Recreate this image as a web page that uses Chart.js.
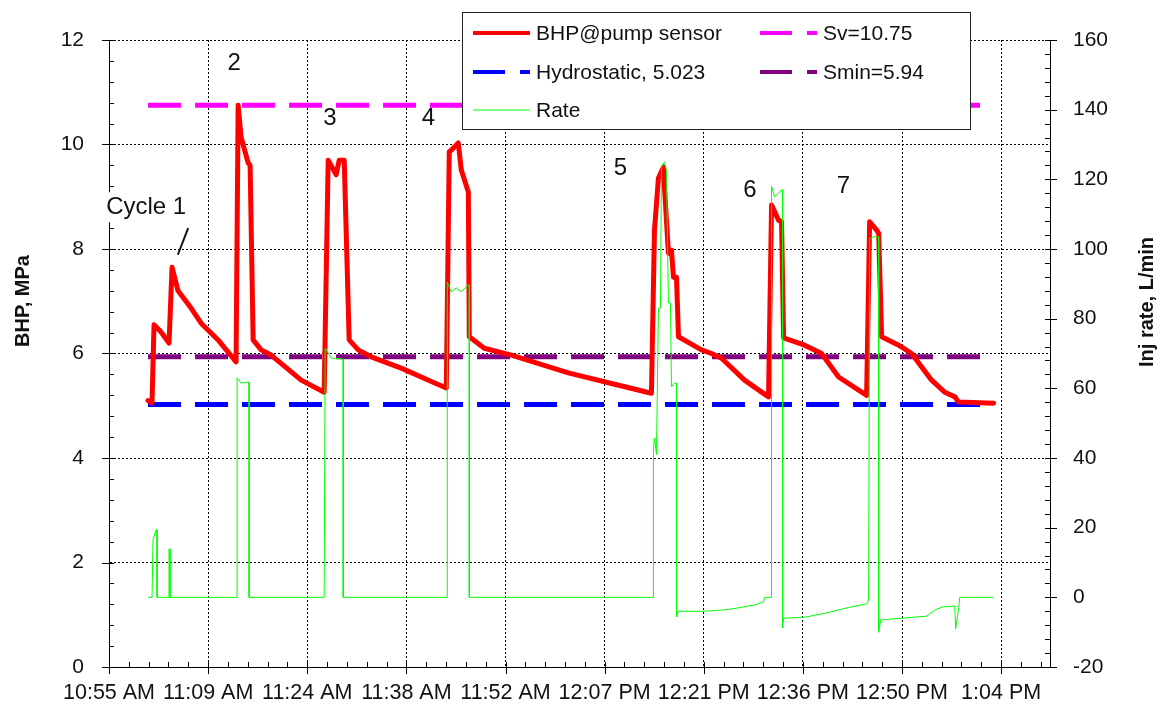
<!DOCTYPE html>
<html>
<head>
<meta charset="utf-8">
<script src="https://cdn.jsdelivr.net/npm/chart.js@4.4.1/dist/chart.umd.min.js"></script>
<style>
  html, body { margin: 0; padding: 0; background: #fff; }
  #wrap { width: 1162px; height: 711px; position: relative; }
</style>
</head>
<body>
<div id="wrap"><canvas id="bhpChart"></canvas></div>
<script>
/* BHP & injection rate vs time, stress test cycles 1-7 */

// time axis: minutes after 10:55:12 (major unit 0.01 day = 14.4 min)
const TICK_MIN    = [0, 14.4, 28.8, 43.2, 57.6, 72, 86.4, 100.8, 115.2, 129.6];
const TICK_LABELS = ["10:55 AM", "11:09 AM", "11:24 AM", "11:38 AM", "11:52 AM",
                     "12:07 PM", "12:21 PM", "12:36 PM", "12:50 PM", "1:04 PM"];
const X_MAX = 136.7;

// BHP @ pump sensor (MPa)
const bhpTime = [5.67, 6.25, 6.54, 7.56, 8.72, 9.16, 10.03, 11.92, 13.38, 15.85, 18.46,
  18.76, 19.19, 20.21, 20.50, 20.94, 22.10, 23.55, 27.91, 31.26,
  31.84, 33.00, 33.44, 34.17, 34.89, 36.20, 38.38, 42.45, 47.25, 49.00,
  49.43, 49.72, 50.74, 51.18, 52.20, 52.34, 54.52, 58.45, 66.73, 72.55, 78.80,
  79.24, 79.82, 80.55, 80.69, 81.27, 81.71, 82.00, 82.44, 82.73, 86.07, 87.53, 88.98, 92.33, 94.80, 95.81,
  96.25, 97.27, 97.70, 98.00, 101.05, 103.52, 105.99, 110.06,
  110.50, 111.52, 111.81, 112.24, 114.71, 116.60, 119.50, 121.40, 122.90, 123.40, 128.50];
const bhpMPa = [5.10, 5.05, 6.55, 6.41, 6.20, 7.65, 7.20, 6.87, 6.58, 6.26, 5.84,
  10.75, 10.14, 9.65, 9.60, 6.26, 6.07, 5.97, 5.49, 5.26,
  9.70, 9.42, 9.70, 9.70, 6.26, 6.07, 5.92, 5.72, 5.44, 5.34,
  9.86, 9.89, 10.03, 9.51, 9.09, 6.32, 6.10, 5.97, 5.63, 5.44, 5.24,
  8.36, 9.36, 9.57, 9.19, 7.92, 7.98, 7.46, 7.46, 6.32, 6.07, 6.00, 5.91, 5.49, 5.26, 5.17,
  8.84, 8.55, 8.52, 6.30, 6.16, 6.00, 5.55, 5.20,
  8.52, 8.36, 8.30, 6.32, 6.16, 6.00, 5.49, 5.26, 5.17, 5.07, 5.05];

// injection rate (L/min)
const rateTime = [5.67, 6.25, 6.40, 6.83, 6.98, 6.98, 8.72, 8.72, 8.87, 8.87,
  18.61, 18.61, 19.19, 20.21, 20.35, 20.35,
  31.26, 31.40, 32.28, 34.02, 34.02,
  49.14, 49.14, 49.72, 50.45, 51.18, 52.20, 52.34, 52.34,
  79.09, 79.09, 79.24, 79.53, 79.82, 80.11, 80.26, 80.69, 80.98, 81.27, 81.56, 81.71, 82.15, 82.44,
  82.44, 82.73, 86.51, 90.00, 93.78, 95.09, 95.23,
  96.25, 96.25, 96.69, 97.27, 97.70, 97.85,
  97.85, 98.00, 101.05, 103.96, 107.45, 110.06, 110.35,
  110.50, 111.08, 111.81,
  111.81, 112.10, 115.15, 118.79, 119.95, 120.97, 122.86, 123.00, 123.44, 123.58, 128.53];
const rateLmin = [0, 0, 16.5, 19.4, 19.4, 0, 0, 13.9, 13.9, 0,
  0, 63, 61.5, 61.8, 61.8, 0,
  0, 71.6, 68.7, 68.4, 0,
  0, 90.5, 87.7, 88.8, 87.7, 89.7, 89.7, 0,
  0, 42.0, 45.7, 41.0, 83.0, 83.0, 123.5, 125.0, 122.6, 84.5, 84.5, 60.4, 61.5, 61.5,
  -5.6, -4.0, -4.0, -3.5, -2.2, -1.3, 0,
  0, 118, 115, 116, 117, 117,
  -8.8, -6.0, -5.7, -4.6, -2.9, -1.9, -0.8,
  103, 103.5, 103.5,
  -10, -6.5, -6.0, -5.4, -3.7, -2.8, -2.5, -9.0, -3.0, 0, 0];

// reference stress levels (MPa), drawn over the test span
const SV = 10.75, HYDRO = 5.023, SMIN = 5.94;
const REF_SPAN = [5.67, 128.5];

// cycle labels: [text, minutes, MPa]
const CYCLE_LABELS = [["Cycle 1", 5.4, 8.8], ["2", 18.2, 11.56], ["3", 32.1, 10.5], ["4", 46.4, 10.5],
                      ["5", 74.3, 9.55], ["6", 93.1, 9.13], ["7", 106.7, 9.19]];

const FONT = "'Liberation Sans', Arial, Helvetica, sans-serif";
const INK = "#111";

const pts = (xs, ys) => xs.map((t, i) => ({ x: t, y: ys[i] }));
const flat = v => REF_SPAN.map(t => ({ x: t, y: v }));

const SERIES = [
  { label: "BHP@pump sensor",      color: "#ff0000", width: 5, dash: [] },
  { label: "Sv=10.75",             color: "#ff00ff", width: 5, dash: [33, 14] },
  { label: "Hydrostatic, 5.023",   color: "#0000ff", width: 5, dash: [33, 14] },
  { label: "Smin=5.94",            color: "#800080", width: 5, dash: [33, 14] },
  { label: "Rate",                 color: "#00ff00", width: 1, dash: [] },
];

// ── tick marks (majors across the axis, minors inside) ──────────────────────
const axisMarks = {
  id: "axisMarks",
  afterDraw(chart) {
    const { ctx, chartArea: a, scales: { x, y, y1 } } = chart;
    ctx.save();
    ctx.strokeStyle = "#000";
    ctx.lineWidth = 1;
    ctx.beginPath();
    TICK_MIN.forEach(t0 => {
      for (let k = 0; k < 5; k++) {
        const v = t0 + k * 2.88;
        if (v > X_MAX) break;
        const px = Math.round(x.getPixelForValue(v)) + 0.5;
        ctx.moveTo(px, a.bottom - 5);
        ctx.lineTo(px, a.bottom + (k ? 0 : 7));
      }
    });
    for (let v = 0; v <= 12.001; v += 0.4) {
      const py = Math.round(y.getPixelForValue(v)) + 0.5;
      const major = Math.abs(v / 2 - Math.round(v / 2)) < 1e-6;
      ctx.moveTo(a.left - (major ? 7 : 0), py);
      ctx.lineTo(a.left + 5, py);
    }
    for (let v = -20; v <= 160.001; v += 4) {
      const py = Math.round(y1.getPixelForValue(v)) + 0.5;
      const major = Math.abs(v / 20 - Math.round(v / 20)) < 1e-6;
      ctx.moveTo(a.right - 5, py);
      ctx.lineTo(a.right + (major ? 7 : 0), py);
    }
    ctx.stroke();
    ctx.restore();
  },
};

// ── axis titles, cycle labels, legend box ───────────────────────────────────
const overlay = {
  id: "overlay",
  afterDraw(chart) {
    const { ctx, scales: { x, y } } = chart;
    ctx.save();
    ctx.fillStyle = INK;

    // axis titles
    ctx.font = `bold 20px ${FONT}`;
    ctx.textAlign = "center";
    ctx.textBaseline = "middle";
    [[23, 301, "BHP, MPa"], [1147, 302, "Inj rate, L/min"]].forEach(([tx, ty, s]) => {
      ctx.save();
      ctx.translate(tx, ty);
      ctx.rotate(-Math.PI / 2);
      ctx.fillText(s, 0, 0);
      ctx.restore();
    });

    // cycle numbers
    ctx.font = `24px ${FONT}`;
    CYCLE_LABELS.forEach(([s, t, v]) => {
      const px = x.getPixelForValue(t), py = y.getPixelForValue(v);
      if (s.length > 1) {
        const w = ctx.measureText(s).width;
        ctx.fillStyle = "#fff";
        ctx.fillRect(px - w / 2 - 4, py - 15, w + 8, 30);
        ctx.fillStyle = INK;
      }
      ctx.fillText(s, px, py);
    });
    // pointer from "Cycle 1" to its peak
    ctx.strokeStyle = INK;
    ctx.lineWidth = 2;
    ctx.beginPath();
    ctx.moveTo(x.getPixelForValue(10.0), y.getPixelForValue(7.89));
    ctx.lineTo(x.getPixelForValue(11.5), y.getPixelForValue(8.4));
    ctx.stroke();

    // legend
    const L = { x: 462.5, y: 12.5, w: 508, h: 117 };
    ctx.fillStyle = "#fff";
    ctx.fillRect(L.x, L.y, L.w, L.h);
    ctx.strokeStyle = "#222";
    ctx.lineWidth = 1;
    ctx.strokeRect(L.x, L.y, L.w, L.h);
    const slots = [[473, 33], [760, 33], [473, 72], [760, 72], [473, 110]];
    ctx.font = `21px ${FONT}`;
    ctx.textAlign = "left";
    SERIES.forEach((s, k) => {
      const [lx, ly] = slots[k];
      ctx.save();
      ctx.strokeStyle = s.color;
      ctx.lineWidth = s.width === 1 ? 1 : 4;
      ctx.setLineDash(s.dash.length ? [32, 15] : []);
      ctx.beginPath();
      ctx.moveTo(lx, ly);
      ctx.lineTo(lx + 57, ly);
      ctx.stroke();
      ctx.restore();
      ctx.fillStyle = INK;
      ctx.fillText(s.label, lx + 63, ly + 1);
    });
    ctx.restore();
  },
};

const tickFont = { family: FONT, size: 21 };

new Chart(document.getElementById("bhpChart"), {
  type: "line",
  data: {
    datasets: [
      { label: SERIES[4].label, data: pts(rateTime, rateLmin), yAxisID: "y1",
        borderColor: SERIES[4].color, borderWidth: 1, order: 0 },
      { label: SERIES[0].label, data: pts(bhpTime, bhpMPa), yAxisID: "y",
        borderColor: SERIES[0].color, borderWidth: 5, borderJoinStyle: "round", borderCapStyle: "round", order: 1 },
      { label: SERIES[1].label, data: flat(SV), yAxisID: "y",
        borderColor: SERIES[1].color, borderWidth: 5, borderDash: SERIES[1].dash, order: 2 },
      { label: SERIES[2].label, data: flat(HYDRO), yAxisID: "y",
        borderColor: SERIES[2].color, borderWidth: 5, borderDash: SERIES[2].dash, order: 3 },
      { label: SERIES[3].label, data: flat(SMIN), yAxisID: "y",
        borderColor: SERIES[3].color, borderWidth: 5, borderDash: SERIES[3].dash, order: 4 },
    ],
  },
  options: {
    responsive: true,
    maintainAspectRatio: false,
    animation: false,
    devicePixelRatio: 1,
    layout: { padding: { top: 40, left: 0, right: 0, bottom: 0 } },
    elements: { point: { radius: 0 }, line: { tension: 0 } },
    plugins: { legend: { display: false }, tooltip: { enabled: false } },
    scales: {
      x: {
        type: "linear", min: 0, max: X_MAX,
        afterBuildTicks: s => { s.ticks = TICK_MIN.map(v => ({ value: v })); },
        afterFit: s => { s.height = 44; },
        ticks: { autoSkip: false, maxRotation: 0, padding: 13, font: { family: FONT, size: 21.5 }, color: INK,
                 callback: (v, i) => TICK_LABELS[i] },
        grid: { color: "#000", lineWidth: 1, drawTicks: false },
        border: { color: "#000", dash: [2, 2] },
      },
      y: {
        position: "left", min: 0, max: 12,
        afterFit: s => { s.width = 109; },
        ticks: { stepSize: 2, padding: 25, font: tickFont, color: INK },
        grid: { color: "#000", lineWidth: 1, drawTicks: false },
        border: { color: "#000", dash: [2, 2] },
      },
      y1: {
        position: "right", min: -20, max: 160,
        afterFit: s => { s.width = 112; },
        ticks: { stepSize: 20, padding: 23, font: tickFont, color: INK },
        grid: { display: false, drawTicks: false },
        border: { color: "#000" },
      },
    },
  },
  plugins: [axisMarks, overlay],
});
</script>
</body>
</html>
